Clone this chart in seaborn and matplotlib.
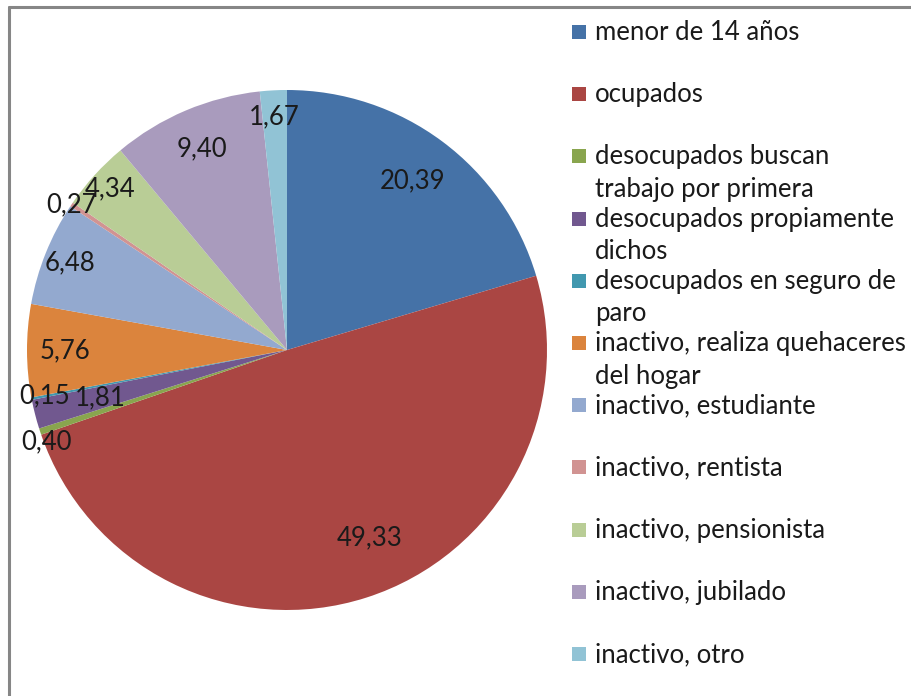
import numpy as np
import seaborn as sns
import matplotlib.pyplot as plt
from matplotlib.lines import Line2D
from matplotlib.patches import Rectangle

# categories and values (percent)
categorias = ["menor de 14 años", "ocupados", "desocupados buscan\ntrabajo por primera",
              "desocupados propiamente\ndichos", "desocupados en seguro de\nparo",
              "inactivo, realiza quehaceres\ndel hogar", "inactivo, estudiante",
              "inactivo, rentista", "inactivo, pensionista", "inactivo, jubilado",
              "inactivo, otro"]
valores = [20.39, 49.33, 0.40, 1.81, 0.15, 5.76, 6.48, 0.27, 4.34, 9.40, 1.67]
colores = ["#4572A7", "#AA4643", "#89A54E", "#71588F", "#4198AF", "#DB843D",
           "#93A9CF", "#D19392", "#B9CD96", "#A99BBD", "#91C3D5"]
# radial position of each data label (fraction of radius) and angular nudge (deg)
pos_etiqueta = [0.81, 0.79, 0.99, 0.74, 0.95, 0.855, 0.90, 1.0, 0.92, 0.84, 0.90]
giro_etiqueta = [0, 6, 2.5, 0, 0, 0, 0, 0, 0, 0, 0]

sns.set_theme(style="white")
plt.rcParams['font.family'] = ['Lato', 'DejaVu Sans']
paleta = sns.color_palette(colores)

W, H = 912, 696
fig = plt.figure(figsize=(W / 100, H / 100), dpi=100)
fig.patch.set_facecolor('white')

# pie axes: centre (287, 350) px, radius 260 px
cx, cy, r = 287, 350, 260
ax = fig.add_axes([(cx - r) / W, (H - cy - r) / H, 2 * r / W, 2 * r / H])
wedges, _ = ax.pie(valores, colors=paleta, startangle=90, counterclock=False,
                   radius=1, wedgeprops=dict(linewidth=0))
ax.set_xlim(-1, 1)
ax.set_ylim(-1, 1)
ax.set_aspect('equal')
ax.axis('off')

# data labels
for w, v, p, g in zip(wedges, valores, pos_etiqueta, giro_etiqueta):
    ang = np.deg2rad((w.theta1 + w.theta2) / 2 + g)
    ax.text(p * np.cos(ang), p * np.sin(ang), f"{v:.2f}".replace('.', ','),
            ha='center', va='center', fontsize=18.5, color='#1a1a1a', clip_on=False)

# legend drawn like Excel: fixed step, wrapped text flows below
y0, paso = 32, 62.2
for i, (lab, col) in enumerate(zip(categorias, paleta)):
    y = y0 + i * paso
    fig.add_artist(Rectangle((572 / W, 1 - (y + 7) / H), 14 / W, 14 / H,
                             transform=fig.transFigure, facecolor=col, edgecolor='none'))
    fig.text(595 / W, 1 - (y - 12) / H, lab, ha='left', va='top', fontsize=18.5,
             color='#1a1a1a', linespacing=1.38)

# chart border (only top and left visible)
fig.add_artist(Line2D([9.5 / W, 9.5 / W], [0, 1 - 7 / H], transform=fig.transFigure,
                      color='#868686', linewidth=2.2))
fig.add_artist(Line2D([9.5 / W, 1], [1 - 7 / H, 1 - 7 / H], transform=fig.transFigure,
                      color='#868686', linewidth=2.2))

fig.savefig('out.png', dpi=100)
